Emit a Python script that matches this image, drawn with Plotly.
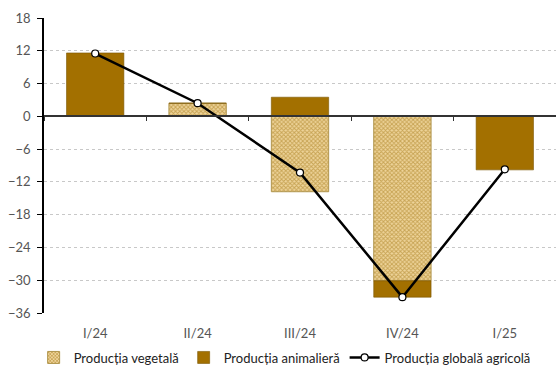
import plotly.graph_objects as go

# data
quarters = ["I/24", "II/24", "III/24", "IV/24", "I/25"]
vegetala = [0.0, 2.4, -13.8, -30.1, 0.0]
animaliera = [11.6, 0.0, 3.5, -3.0, -9.8]
globala = [11.5, 2.4, -10.3, -33.1, -9.7]
y_ticks = [18, 12, 6, 0, -6, -12, -18, -24, -30, -36]

brown = "#a37000"
font = "Lato"
text_color = "#555555"

fig = go.Figure()

# hatched bars - vegetal production
fig.add_trace(go.Bar(
    x=quarters, y=vegetala, name="Producția vegetală",
    width=0.56,
    marker=dict(
        color="#eed49a",
        pattern=dict(shape="x", fgcolor="#a27410", bgcolor="#eed49a", size=3, solidity=0.55),
        line=dict(color="#b0954d", width=1),
    ),
))

# solid bars - animal production
fig.add_trace(go.Bar(
    x=quarters, y=animaliera, name="Producția animalieră",
    width=0.56,
    marker=dict(color=brown, line=dict(color="#7a5500", width=0.6)),
))

# global agricultural production line
fig.add_trace(go.Scatter(
    x=quarters, y=globala, name="Producția globală agricolă",
    xaxis="x2",
    mode="lines+markers",
    line=dict(color="black", width=2.5),
    marker=dict(symbol="circle", size=7, color="white", line=dict(color="black", width=1.2)),
))

fig.update_layout(
    barmode="relative",
    width=556, height=372,
    margin=dict(l=44, r=0, t=18, b=59, autoexpand=False),
    plot_bgcolor="white",
    paper_bgcolor="white",
    font=dict(family=font, size=13, color=text_color),
    xaxis=dict(
        categoryorder="array", categoryarray=quarters,
        showline=False, ticks="", showgrid=False,
        tickfont=dict(size=13, color=text_color),
        ticklabelstandoff=11,
        automargin=False,
    ),
    # axis drawn at y=0 with the category boundary ticks
    xaxis2=dict(
        overlaying="x", matches="x", anchor="free", position=36 / 54,
        categoryorder="array", categoryarray=quarters,
        showticklabels=False, showgrid=False,
        showline=True, linecolor="#333333", linewidth=1.5,
        ticks="outside", tickson="boundaries", ticklen=4, tickcolor="#333333",
    ),
    yaxis=dict(
        range=[-36, 18], tickvals=y_ticks,
        showline=True, linecolor="black", linewidth=1.5,
        ticks="outside", ticklen=5, tickcolor="black",
        showgrid=True, gridcolor="#c8c8c8", griddash="dot", gridwidth=1,
        zeroline=False,
        tickfont=dict(size=13, color=text_color),
        ticklabelstandoff=4,
        automargin=False,
    ),
    legend=dict(
        orientation="h", x=0.47, xanchor="center", y=-0.1, yanchor="top",
        font=dict(size=13, color="#222222"),
        tracegroupgap=0,
    ),
    showlegend=True,
)

# drop the default page margin so the figure sits at the window's corner
fig.write_html("out.html", config={"displayModeBar": False},
               post_script="document.body.style.margin='0';")
